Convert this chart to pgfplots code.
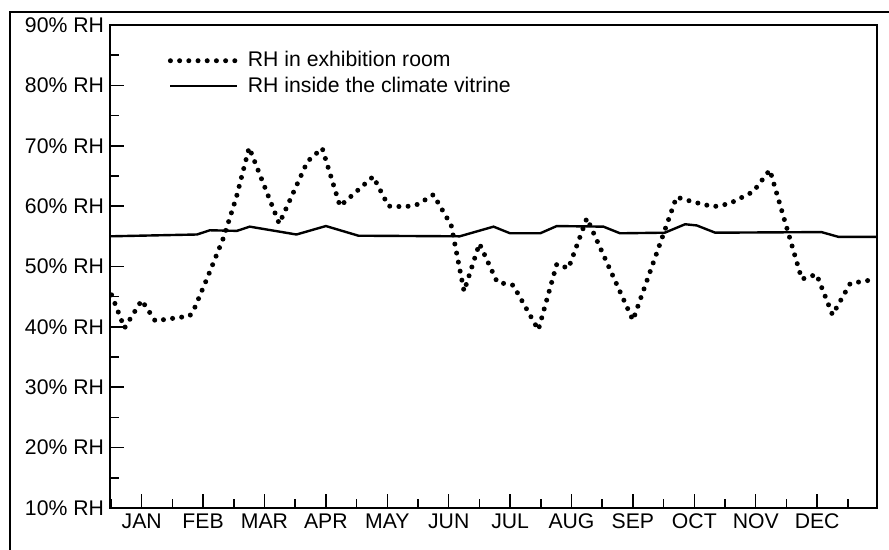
\documentclass[border=0pt]{standalone}
\usepackage{pgfplots}
\pgfplotsset{compat=1.18}
\usepackage{fontspec}
\setmainfont{Liberation Sans}
\pgfplotsset{
  dotline/.style={line width=2.5pt, dash pattern=on 0pt off 4.6pt, line cap=round},
}
\begin{document}
\begin{tikzpicture}[x=1pt,y=1pt]
\useasboundingbox (0,0) rectangle (444.5,275);
\draw[line width=1pt] (5,0) -- (5,269) -- (444.5,269);
\begin{axis}[
  at={(55pt,21pt)}, anchor=south west,
  scale only axis, width=383.5pt, height=241.5pt,
  xmin=0.484, xmax=12.975, ymin=10, ymax=90,
  axis line style={line width=0.8pt},
  every tick/.style={black, line width=0.75pt},
  tick align=inside,
  major tick length=7pt, minor tick length=4.5pt,
  xtick pos=bottom, ytick pos=left,
  xtick={1,2,3,4,5,6,7,8,9,10,11,12},
  xticklabels={JAN,FEB,MAR,APR,MAY,JUN,JUL,AUG,SEP,OCT,NOV,DEC},
  minor xtick={0.5,1.5,2.5,3.5,4.5,5.5,6.5,7.5,8.5,9.5,10.5,11.5,12.5},
  ytick={10,20,30,40,50,60,70,80,90},
  yticklabels={10\% RH,20\% RH,30\% RH,40\% RH,50\% RH,60\% RH,70\% RH,80\% RH,90\% RH},
  minor ytick={15,25,35,45,55,65,75,85},
  ticklabel style={font=\fontsize{10.6}{12}\selectfont},
  yticklabel style={xshift=0.5pt},
  xticklabel style={yshift=0.5pt},
  legend image code/.code={\draw[#1] (0pt,0pt) -- (33.5pt,0pt);},
  legend cell align=left,
  legend style={at={(axis description cs:0.075,0.95)}, anchor=north west,
    draw=none, fill=none, inner sep=0pt, row sep=1.5pt, column sep=3pt,
    font=\fontsize{10.6}{12}\selectfont, nodes={inner sep=1pt}},
]
\addplot[black, dotline] coordinates {
(0.51,45.3) (0.72,39.8) (1.00,44.4) (1.22,41.0) (1.78,41.8) (1.84,42.6)
(2.06,47.9) (2.33,54.7) (2.54,61.4) (2.75,69.7) (3.24,57.1) (3.70,67.4)
(3.94,69.6) (4.23,60.0) (4.77,64.9) (5.02,60.0) (5.30,59.9) (5.50,60.3)
(5.75,61.9) (6.04,56.85) (6.25,45.9) (6.50,53.8) (6.79,47.4) (7.05,46.9)
(7.46,39.5) (7.76,50.4) (7.95,49.7) (8.25,58.0) (9.00,41.1) (9.71,61.5)
(9.98,60.7) (10.31,59.9) (10.57,60.4) (10.96,62.4) (11.23,66.0) (11.75,47.9)
(11.99,48.7) (12.25,42.0) (12.54,47.2) (12.96,47.9)
};
\addlegendentry{RH in exhibition room}
\addplot[black, line width=1.2pt] coordinates {
(0.484,55.0) (1.90,55.3) (2.11,56.0) (2.55,55.9) (2.76,56.6) (3.52,55.3)
(4.00,56.7) (4.53,55.1) (6.18,55.0) (6.73,56.6) (7.00,55.5) (7.49,55.5)
(7.76,56.7) (8.52,56.6) (8.79,55.5) (9.52,55.6) (9.85,57.0) (10.04,56.8)
(10.34,55.6) (12.07,55.7) (12.35,54.9) (12.975,54.9)
};
\addlegendentry{RH inside the climate vitrine}
\end{axis}
\end{tikzpicture}
\end{document}
